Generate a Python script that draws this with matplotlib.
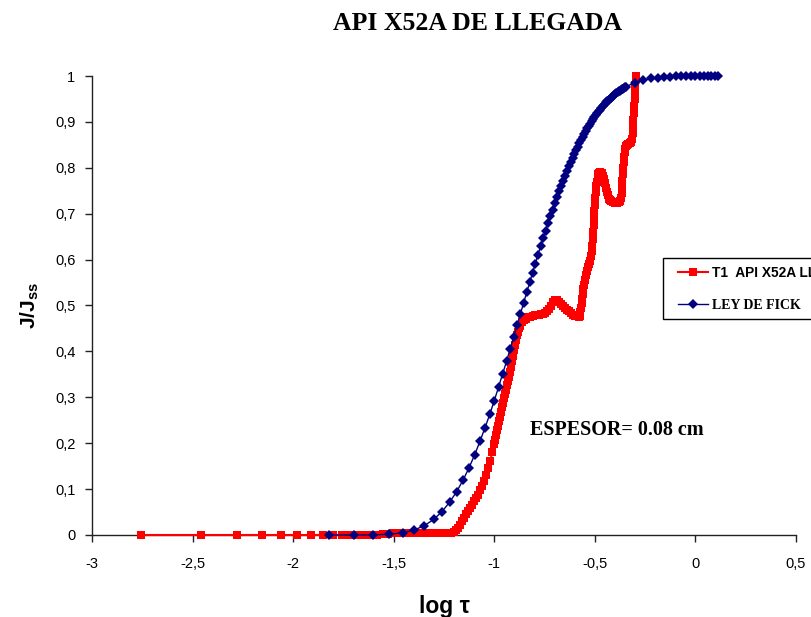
import matplotlib
matplotlib.use("Agg")
import matplotlib.pyplot as plt
from matplotlib.lines import Line2D
from matplotlib.legend_handler import HandlerLine2D
from matplotlib.ticker import FuncFormatter, MultipleLocator

plt.rcParams["font.family"] = ["Liberation Sans", "DejaVu Sans"]
plt.rcParams["mathtext.fontset"] = "custom"
plt.rcParams["mathtext.bf"] = "Liberation Sans:bold"
plt.rcParams["mathtext.rm"] = "Liberation Sans:bold"

# ----------------------------
# DATA (log tau, J/Jss)
# ----------------------------
# T1 API X52A LLEGADA (experimental)
t1_logtau = [
    -2.757, -2.456, -2.280, -2.155, -2.058, -1.979, -1.912, -1.854, -1.803, -1.757,
    -1.716, -1.678, -1.643, -1.611, -1.581, -1.553, -1.527, -1.502, -1.478, -1.456,
    -1.435, -1.415, -1.395, -1.377, -1.359, -1.342, -1.326, -1.310, -1.295, -1.280,
    -1.266, -1.252, -1.239, -1.226, -1.213, -1.201,
    -1.190, -1.180, -1.170, -1.160, -1.150, -1.140, -1.130, -1.120, -1.110, -1.100,
    -1.090, -1.080, -1.070, -1.060, -1.050, -1.040, -1.030, -1.020, -1.010, -1.000,
    -0.995, -0.990, -0.985, -0.980, -0.975, -0.970, -0.965, -0.960, -0.955, -0.950,
    -0.945, -0.940, -0.935, -0.930, -0.925, -0.920, -0.915, -0.910, -0.905, -0.900,
    -0.895, -0.890, -0.885, -0.880, -0.875, -0.870, -0.860, -0.850, -0.840, -0.830,
    -0.820, -0.810, -0.800, -0.790, -0.780, -0.770, -0.760, -0.750, -0.740, -0.730,
    -0.720, -0.710, -0.700, -0.690, -0.680, -0.670, -0.660, -0.650, -0.640, -0.630,
    -0.620, -0.610, -0.600, -0.590, -0.580, -0.575, -0.572, -0.569, -0.566, -0.563,
    -0.560, -0.557, -0.554, -0.550, -0.545, -0.540, -0.535, -0.530, -0.525, -0.520,
    -0.516, -0.513, -0.510, -0.508, -0.506, -0.504, -0.502, -0.500, -0.498, -0.496,
    -0.493, -0.490, -0.486, -0.482, -0.477, -0.472, -0.466, -0.460, -0.455, -0.450,
    -0.445, -0.440, -0.435, -0.430, -0.425, -0.420, -0.410, -0.400, -0.390, -0.380,
    -0.374, -0.370, -0.367, -0.365, -0.363, -0.361, -0.359, -0.357, -0.355, -0.352,
    -0.348, -0.344, -0.339, -0.333, -0.327, -0.321, -0.316, -0.312, -0.310, -0.308,
    -0.306, -0.304, -0.302, -0.300, -0.298, -0.296, -0.295,
]
t1_j = [
    0.000, 0.000, 0.000, 0.000, 0.000, 0.000, 0.000, 0.000, 0.000, 0.000,
    0.000, 0.000, 0.000, 0.000, 0.001, 0.002, 0.003, 0.004, 0.005, 0.005,
    0.005, 0.005, 0.005, 0.005, 0.005, 0.005, 0.005, 0.005, 0.005, 0.005,
    0.005, 0.005, 0.005, 0.005, 0.005, 0.006,
    0.010, 0.016, 0.022, 0.030, 0.038, 0.045, 0.052, 0.059, 0.066, 0.073,
    0.080, 0.088, 0.097, 0.107, 0.118, 0.131, 0.145, 0.162, 0.180, 0.199,
    0.208, 0.218, 0.228, 0.238, 0.248, 0.258, 0.268, 0.278, 0.288, 0.298,
    0.307, 0.316, 0.326, 0.335, 0.345, 0.355, 0.366, 0.378, 0.390, 0.402,
    0.414, 0.425, 0.435, 0.443, 0.450, 0.455, 0.463, 0.468, 0.471, 0.474,
    0.476, 0.478, 0.479, 0.480, 0.480, 0.481, 0.482, 0.484, 0.487, 0.492,
    0.499, 0.507, 0.512, 0.511, 0.507, 0.503, 0.499, 0.495, 0.491, 0.487,
    0.483, 0.480, 0.478, 0.477, 0.476, 0.477, 0.485, 0.495, 0.505, 0.515,
    0.525, 0.535, 0.545, 0.556, 0.566, 0.575, 0.583, 0.590, 0.598, 0.607,
    0.618, 0.630, 0.645, 0.660, 0.675, 0.690, 0.705, 0.720, 0.735, 0.748,
    0.760, 0.770, 0.780, 0.786, 0.789, 0.790, 0.788, 0.782, 0.775, 0.766,
    0.757, 0.748, 0.740, 0.733, 0.729, 0.727, 0.725, 0.724, 0.724, 0.725,
    0.728, 0.735, 0.745, 0.758, 0.772, 0.786, 0.800, 0.813, 0.824, 0.834,
    0.842, 0.847, 0.850, 0.852, 0.854, 0.857, 0.862, 0.875, 0.890, 0.905,
    0.920, 0.935, 0.950, 0.965, 0.980, 0.993, 1.000,
]

# LEY DE FICK (theoretical curve)
fick_logtau = [
    -1.824, -1.699, -1.602, -1.523, -1.456, -1.398, -1.347, -1.301, -1.260, -1.222,
    -1.187, -1.155, -1.125, -1.097, -1.071, -1.046, -1.022, -1.000, -0.979, -0.959,
    -0.939, -0.921, -0.903, -0.886, -0.870, -0.854, -0.839, -0.824, -0.810, -0.796,
    -0.783, -0.770, -0.757, -0.745, -0.733, -0.721, -0.710, -0.699, -0.688, -0.678,
    -0.668, -0.658, -0.648, -0.638, -0.629, -0.620, -0.611, -0.602, -0.593, -0.585,
    -0.577, -0.569, -0.561, -0.553, -0.545, -0.538, -0.530, -0.523, -0.516, -0.509,
    -0.502, -0.495, -0.488, -0.481, -0.475, -0.469, -0.462, -0.456, -0.450, -0.444,
    -0.438, -0.432, -0.426, -0.420, -0.415, -0.409, -0.403, -0.398, -0.393, -0.387,
    -0.382, -0.377, -0.372, -0.367, -0.361, -0.357, -0.352, -0.347,
    -0.301, -0.260, -0.222, -0.187, -0.155, -0.125, -0.097, -0.071, -0.046, -0.022,
    0.000, 0.021, 0.041, 0.061, 0.079, 0.097, 0.114,
]
fick_j = [
    0.0000, 0.0000, 0.0003, 0.0016, 0.0048, 0.0109, 0.0206, 0.0340, 0.0511, 0.0714,
    0.0945, 0.1198, 0.1470, 0.1753, 0.2044, 0.2339, 0.2634, 0.2929, 0.3220, 0.3505,
    0.3784, 0.4056, 0.4320, 0.4574, 0.4820, 0.5058, 0.5285, 0.5502, 0.5711, 0.5912,
    0.6105, 0.6289, 0.6465, 0.6633, 0.6793, 0.6945, 0.7091, 0.7229, 0.7362, 0.7488,
    0.7608, 0.7722, 0.7832, 0.7936, 0.8035, 0.8130, 0.8219, 0.8305, 0.8387, 0.8464,
    0.8538, 0.8608, 0.8675, 0.8739, 0.8799, 0.8857, 0.8912, 0.8965, 0.9014, 0.9062,
    0.9107, 0.9150, 0.9191, 0.9230, 0.9267, 0.9302, 0.9336, 0.9368, 0.9398, 0.9427,
    0.9455, 0.9481, 0.9506, 0.9530, 0.9552, 0.9574, 0.9595, 0.9614, 0.9633, 0.9650,
    0.9667, 0.9683, 0.9698, 0.9713, 0.9727, 0.9740, 0.9752, 0.9764,
    0.9856, 0.9912, 0.9946, 0.9967, 0.9980, 0.9988, 0.9993, 0.9995, 0.9997, 0.9998,
    0.9999, 1.0000, 1.0000, 1.0000, 1.0000, 1.0000, 1.0000,
]

title = "API X52A DE LLEGADA"
label_t1 = "T1  API X52A LLEGADA"
label_fick = "LEY DE FICK"
note = "ESPESOR= 0.08 cm"


def comma(v, _):
    s = f"{v:.2f}".rstrip("0").rstrip(".")
    if s == "-0":
        s = "0"
    return s.replace(".", ",")


# ----------------------------
# FIGURE
# ----------------------------
fig = plt.figure(figsize=(8.12, 6.17), dpi=100)
ax = fig.add_axes([92 / 812, 82 / 617, 704 / 812, 459 / 617])

ax.plot(t1_logtau, t1_j, color="#ff0000", lw=1.5, marker="s", ms=5.8,
        mew=0, label=label_t1, clip_on=False, zorder=3)
ax.plot(fick_logtau, fick_j, color="#000080", lw=1.0, marker="D", ms=5.4,
        mew=0, label=label_fick, clip_on=False, zorder=4)

ax.set_xlim(-3, 0.5)
ax.set_ylim(0, 1)
ax.xaxis.set_major_locator(MultipleLocator(0.5))
ax.yaxis.set_major_locator(MultipleLocator(0.1))
ax.xaxis.set_major_formatter(FuncFormatter(comma))
ax.yaxis.set_major_formatter(FuncFormatter(comma))

for side in ["top", "right"]:
    ax.spines[side].set_visible(False)
for side in ["left", "bottom"]:
    ax.spines[side].set_color("#222222")
    ax.spines[side].set_linewidth(1.0)

ax.tick_params(axis="both", direction="out", length=5, width=1,
               color="#222222", labelsize=10.5, labelcolor="black")
ax.tick_params(axis="x", pad=11)
ax.tick_params(axis="y", pad=7)

ax.set_ylabel(r"J/J$_{\mathbf{ss}}$", fontsize=15, fontweight="bold", labelpad=10)
ax.set_xlabel("log \u03c4", fontsize=16.5, fontweight="bold", labelpad=17)

fig.text(478 / 812, 1 - 24 / 617, title, ha="center", va="center",
         fontsize=18.5, fontweight="bold", family="Liberation Serif")

ax.text(-0.82, 0.228, note, ha="left", va="center", fontsize=14.5,
        fontweight="bold", family="Liberation Serif")

# legend: frame runs past the right edge of the figure, as in the original
leg = ax.legend(loc="upper left", bbox_to_anchor=(663 / 812, 1 - 258 / 617),
                bbox_transform=fig.transFigure, borderaxespad=0,
                frameon=True, fancybox=False, edgecolor="black",
                framealpha=1, borderpad=0.55, labelspacing=1.4,
                handlelength=2.75, handletextpad=0.3,
                handler_map={Line2D: HandlerLine2D(xpad=0.55)},
                prop={"weight": "bold", "size": 9.9})
leg.get_frame().set_linewidth(1.0)
leg.get_texts()[1].set_fontfamily("Liberation Serif")
leg.get_texts()[1].set_fontsize(10)

fig.savefig("out.png", dpi=100)
